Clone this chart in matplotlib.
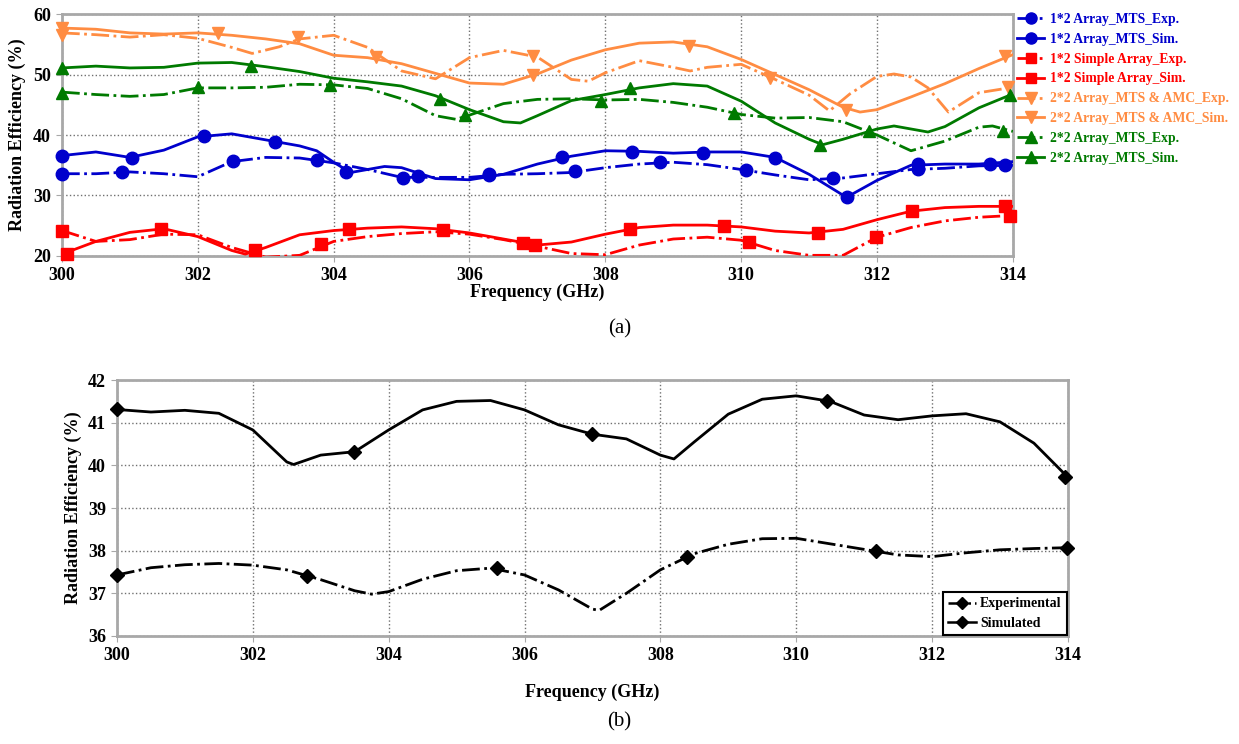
import matplotlib.pyplot as plt
from matplotlib.lines import Line2D

plt.rcParams['font.family'] = ['Liberation Serif', 'DejaVu Serif']
plt.rcParams['font.weight'] = 'bold'

# ---------------------------------------------------------------- panel (a)
# 1*2 Array_MTS
mts12_exp_f = [300, 300.5, 301, 301.5, 302, 302.5, 303, 303.5, 304, 304.5, 305, 305.5, 306, 306.5, 307,
               307.5, 308, 308.5, 309, 309.5, 310, 310.5, 311, 311.5, 312, 312.5, 313, 313.5, 314]
mts12_exp_e = [33.6, 33.6, 33.9, 33.6, 33.1, 35.6, 36.3, 36.2, 35.4, 34.3, 33.0, 33.0, 33.0, 33.5, 33.6,
               33.8, 34.6, 35.2, 35.5, 35.1, 34.3, 33.4, 32.6, 32.9, 33.6, 34.3, 34.5, 34.9, 35.0]
mts12_exp_mf = [300, 300.88, 302.52, 303.75, 305.02, 306.29, 307.55, 308.81, 310.07, 311.35, 312.6, 313.88]
mts12_exp_me = [33.6, 33.9, 35.7, 35.8, 32.9, 33.4, 34.0, 35.6, 34.2, 32.9, 34.4, 35.0]

mts12_sim_f = [300, 300.5, 301, 301.5, 302, 302.5, 303, 303.5, 303.75, 304, 304.25, 304.75, 305, 305.5, 306,
               306.5, 307, 307.5, 308, 308.5, 309, 309.5, 310, 310.5, 311, 311.55, 312, 312.5, 313, 313.5, 314]
mts12_sim_e = [36.6, 37.2, 36.3, 37.5, 39.7, 40.2, 39.2, 38.2, 37.4, 35.5, 33.8, 34.8, 34.6, 32.8, 32.6,
               33.5, 35.2, 36.5, 37.4, 37.3, 37.0, 37.2, 37.2, 36.3, 33.5, 29.7, 32.5, 35.0, 35.2, 35.2, 35.6]
mts12_sim_mf = [300, 301.03, 302.09, 303.14, 304.18, 305.24, 306.29, 307.36, 308.39, 309.44, 310.5, 311.56,
                312.6, 313.66]
mts12_sim_me = [36.6, 36.2, 39.9, 38.9, 33.9, 33.2, 33.5, 36.3, 37.2, 37.1, 36.2, 29.7, 35.2, 35.2]

# 1*2 Simple Array
simple12_exp_f = [300, 300.5, 301, 301.5, 302, 302.5, 303, 303.5, 304, 304.5, 305, 305.5, 306, 306.5, 307,
                  307.5, 308, 308.5, 309, 309.5, 310, 310.5, 311, 311.5, 312, 312.5, 313, 313.5, 314]
simple12_exp_e = [24.2, 22.4, 22.7, 23.6, 23.5, 21.4, 19.8, 20.1, 22.4, 23.2, 23.7, 24.0, 23.6, 22.7, 21.6,
                  20.4, 20.2, 21.8, 22.8, 23.1, 22.6, 20.9, 20.1, 20.1, 23.1, 24.7, 25.8, 26.4, 26.7]
simple12_exp_mf = [300, 303.82, 306.79, 310.11, 311.98, 313.96]
simple12_exp_me = [24.2, 21.9, 22.2, 22.3, 23.1, 26.6]

simple12_sim_f = [300, 300.5, 301, 301.5, 302, 302.5, 302.7, 303, 303.5, 304, 304.5, 305, 305.5, 306, 306.5,
                  307, 307.5, 308, 308.5, 309, 309.5, 310, 310.5, 311, 311.5, 312, 312.5, 313, 313.5, 314]
simple12_sim_e = [20.3, 22.4, 23.9, 24.5, 23.2, 20.9, 20.3, 21.4, 23.5, 24.2, 24.6, 24.8, 24.5, 23.8, 22.8,
                  21.8, 22.3, 23.6, 24.7, 25.1, 25.1, 24.8, 24.1, 23.8, 24.4, 26.0, 27.4, 28.0, 28.2, 28.2]
simple12_sim_mf = [300.08, 301.46, 302.84, 304.23, 305.61, 306.96, 308.37, 309.74, 311.13, 312.51, 313.88]
simple12_sim_me = [20.4, 24.5, 20.9, 24.5, 24.3, 21.8, 24.5, 25.0, 23.8, 27.5, 28.2]

# 2*2 Array_MTS & AMC
mtsamc22_exp_f = [300, 300.5, 301, 301.5, 302, 302.5, 302.8, 303.2, 303.5, 304, 304.5, 305, 305.5, 306,
                  306.5, 307, 307.5, 307.75, 308, 308.5, 309, 309.25, 309.5, 310, 310.5, 311, 311.3, 311.6,
                  312, 312.25, 312.5, 312.75, 313.05, 313.5, 314]
mtsamc22_exp_e = [56.9, 56.6, 56.2, 56.6, 56.0, 54.5, 53.5, 54.6, 55.9, 56.5, 54.5, 50.6, 49.3, 52.8,
                  54.0, 52.9, 49.2, 48.9, 50.3, 52.3, 51.2, 50.6, 51.2, 51.7, 49.2, 46.6, 44.0, 46.8,
                  49.7, 50.1, 49.6, 47.8, 43.8, 47.0, 47.9]
mtsamc22_exp_mf = [300, 303.47, 304.62, 306.93, 310.43, 313.93]
mtsamc22_exp_me = [56.6, 56.2, 52.9, 53.0, 49.4, 47.9]

mtsamc22_sim_f = [300, 300.5, 301, 301.5, 302, 302.5, 303, 303.5, 304, 304.5, 305, 305.5, 306, 306.5, 307,
                  307.5, 308, 308.5, 309, 309.5, 310, 310.5, 311, 311.5, 311.75, 312, 312.5, 313, 313.5, 314]
mtsamc22_sim_e = [57.7, 57.5, 56.9, 56.7, 56.9, 56.5, 55.9, 55.1, 53.2, 52.8, 51.8, 50.2, 48.6, 48.4, 50.1,
                  52.4, 54.1, 55.2, 55.4, 54.6, 52.5, 50.0, 47.5, 44.6, 43.8, 44.2, 46.3, 48.5, 51.0, 53.3]
mtsamc22_sim_mf = [300, 302.3, 306.93, 309.23, 311.55, 313.88]
mtsamc22_sim_me = [57.7, 56.9, 50.0, 54.7, 44.2, 53.0]

# 2*2 Array_MTS
mts22_exp_f = [300, 300.5, 301, 301.5, 302, 302.5, 303, 303.5, 304, 304.5, 305, 305.5, 305.8, 306, 306.5,
               307, 307.5, 308, 308.5, 309, 309.5, 310, 310.5, 311, 311.5, 312, 312.5, 313, 313.5, 313.7, 314]
mts22_exp_e = [47.1, 46.7, 46.4, 46.7, 47.8, 47.8, 47.9, 48.4, 48.3, 47.7, 46.0, 43.2, 42.6, 43.3, 45.2,
               45.9, 46.0, 45.8, 45.9, 45.4, 44.6, 43.4, 42.8, 42.9, 42.2, 40.0, 37.4, 39.0, 41.3, 41.5, 40.6]
mts22_exp_mf = [300, 302, 303.94, 305.94, 307.93, 309.89, 311.88, 313.85]
mts22_exp_me = [47.0, 47.9, 48.3, 43.3, 45.6, 43.7, 40.6, 40.6]

mts22_sim_f = [300, 300.5, 301, 301.5, 302, 302.5, 303, 303.5, 304, 304.5, 305, 305.5, 306, 306.5, 306.75,
               307, 307.5, 308, 308.5, 309, 309.5, 310, 310.5, 311, 311.2, 311.5, 312, 312.25, 312.5, 312.75,
               313, 313.5, 314]
mts22_sim_e = [51.1, 51.4, 51.1, 51.2, 51.9, 52.0, 51.3, 50.5, 49.4, 48.8, 48.1, 46.5, 44.2, 42.2, 42.0,
               43.2, 45.7, 46.7, 47.8, 48.5, 48.1, 45.6, 42.0, 39.3, 38.4, 39.3, 41.0, 41.5, 41.0, 40.5,
               41.4, 44.5, 46.8]
mts22_sim_mf = [300, 302.79, 305.56, 308.37, 311.16, 313.96]
mts22_sim_me = [51.1, 51.4, 46.0, 47.7, 38.4, 46.6]

# ---------------------------------------------------------------- panel (b)
b_exp_f = [300, 300.5, 301, 301.5, 302, 302.5, 303, 303.5, 303.75, 304, 304.5, 305, 305.5, 306, 306.5, 307,
           307.1, 307.5, 308, 308.5, 309, 309.5, 310, 310.5, 311, 311.5, 312, 312.5, 313, 313.5, 314]
b_exp_e = [37.43, 37.60, 37.67, 37.70, 37.66, 37.55, 37.32, 37.06, 36.98, 37.04, 37.33, 37.53, 37.59, 37.43,
           37.08, 36.63, 36.60, 37.00, 37.55, 37.93, 38.15, 38.28, 38.29, 38.16, 38.03, 37.90, 37.86, 37.95,
           38.02, 38.05, 38.07]
b_exp_mf = [300, 302.8, 305.6, 308.39, 311.18, 313.98]
b_exp_me = [37.43, 37.41, 37.59, 37.86, 37.99, 38.07]

b_sim_f = [300, 300.5, 301, 301.5, 302, 302.5, 302.6, 303, 303.5, 304, 304.5, 305, 305.5, 306, 306.5, 307,
           307.5, 308, 308.2, 308.5, 309, 309.5, 310, 310.5, 311, 311.5, 312, 312.5, 313, 313.5, 314]
b_sim_e = [41.31, 41.25, 41.29, 41.22, 40.83, 40.08, 40.02, 40.24, 40.32, 40.83, 41.30, 41.50, 41.52, 41.30,
           40.95, 40.73, 40.62, 40.24, 40.15, 40.55, 41.20, 41.55, 41.63, 41.50, 41.18, 41.07, 41.16, 41.21,
           41.02, 40.52, 39.72]
b_sim_mf = [300, 303.49, 307.0, 310.46, 313.96]
b_sim_me = [41.31, 40.32, 40.73, 41.52, 39.72]

blue = '#0000cc'
red = '#ff0000'
orange = '#ff8c42'
green = '#007a00'
spine_col = '#a8a8a8'

series_a = [
    ('1*2 Array_MTS_Exp.', blue, 'o', 9, '-.', mts12_exp_f, mts12_exp_e, mts12_exp_mf, mts12_exp_me),
    ('1*2 Array_MTS_Sim.', blue, 'o', 9, '-', mts12_sim_f, mts12_sim_e, mts12_sim_mf, mts12_sim_me),
    ('1*2 Simple Array_Exp.', red, 's', 8, '-.', simple12_exp_f, simple12_exp_e, simple12_exp_mf, simple12_exp_me),
    ('1*2 Simple Array_Sim.', red, 's', 8, '-', simple12_sim_f, simple12_sim_e, simple12_sim_mf, simple12_sim_me),
    ('2*2 Array_MTS & AMC_Exp.', orange, 'v', 9, '-.', mtsamc22_exp_f, mtsamc22_exp_e, mtsamc22_exp_mf, mtsamc22_exp_me),
    ('2*2 Array_MTS & AMC_Sim.', orange, 'v', 9, '-', mtsamc22_sim_f, mtsamc22_sim_e, mtsamc22_sim_mf, mtsamc22_sim_me),
    ('2*2 Array_MTS_Exp.', green, '^', 9, '-.', mts22_exp_f, mts22_exp_e, mts22_exp_mf, mts22_exp_me),
    ('2*2 Array_MTS_Sim.', green, '^', 9, '-', mts22_sim_f, mts22_sim_e, mts22_sim_mf, mts22_sim_me),
]


def style_axes(ax, ylim, yticks):
    ax.set_xlim(300, 314)
    ax.set_ylim(*ylim)
    ax.set_xticks(range(300, 315, 2))
    ax.set_yticks(yticks)
    ax.grid(True, ls=':', color='#707070', lw=1.0)
    for sp in ax.spines.values():
        sp.set_color(spine_col)
        sp.set_linewidth(2.0)
    ax.tick_params(length=4, color=spine_col, labelsize=13, pad=4)
    ax.set_xlabel('Frequency (GHz)', fontsize=13, fontweight='bold')
    ax.set_ylabel('Radiation Efficiency (%)', fontsize=13, fontweight='bold')


fig = plt.figure(figsize=(12.39, 7.44), dpi=100)

# ---- (a)
ax1 = fig.add_axes([0.050, 0.656, 0.7675, 0.325])
handles = []
for label, col, mk, ms, ls, f, e, mf, me in series_a:
    ax1.plot(f, e, color=col, ls=ls, lw=2.0, zorder=3)
    ax1.plot(mf, me, ls='none', marker=mk, ms=ms, color=col, zorder=4, clip_on=False)
    handles.append(Line2D([], [], color=col, ls=ls, lw=2.0, marker=mk, ms=ms - 1, label=label))
style_axes(ax1, (20, 60), [20, 30, 40, 50, 60])
ax1.yaxis.labelpad = 5
ax1.xaxis.labelpad = 0
ax1.legend(handles=handles, loc='upper left', bbox_to_anchor=(1.003, 1.01), frameon=False,
           labelcolor='linecolor', prop={'family': 'Liberation Serif', 'weight': 'bold', 'size': 9.8},
           handlelength=2.0, handletextpad=0.4, labelspacing=0.5, borderaxespad=0, borderpad=0.1)
fig.text(0.5, 0.558, '(a)', ha='center', va='center', fontsize=15, fontweight='normal')

# ---- (b)
ax2 = fig.add_axes([0.0944, 0.1452, 0.7675, 0.344])
ax2.plot(b_exp_f, b_exp_e, color='black', ls='-.', lw=2.0, zorder=3)
ax2.plot(b_exp_mf, b_exp_me, ls='none', marker='D', ms=7, color='black', zorder=4, clip_on=False)
ax2.plot(b_sim_f, b_sim_e, color='black', ls='-', lw=2.0, zorder=3)
ax2.plot(b_sim_mf, b_sim_me, ls='none', marker='D', ms=7, color='black', zorder=4, clip_on=False)
style_axes(ax2, (36, 42), range(36, 43))
ax2.yaxis.labelpad = 4
ax2.xaxis.labelpad = 14
h2 = [Line2D([], [], color='black', ls='-.', lw=1.8, marker='D', ms=6, label='Experimental'),
      Line2D([], [], color='black', ls='-', lw=1.8, marker='D', ms=6, label='Simulated')]
leg = ax2.legend(handles=h2, loc='lower right', frameon=True, fancybox=False, framealpha=1,
                 prop={'family': 'Liberation Serif', 'weight': 'bold', 'size': 10},
                 handlelength=2.0, handletextpad=0.3, labelspacing=0.45, borderaxespad=0.05,
                 borderpad=0.4)
leg.get_frame().set_edgecolor('black')
leg.get_frame().set_linewidth(1.5)
fig.text(0.5, 0.03, '(b)', ha='center', va='center', fontsize=15, fontweight='normal')

fig.savefig('out.png', dpi=100, facecolor='white')
